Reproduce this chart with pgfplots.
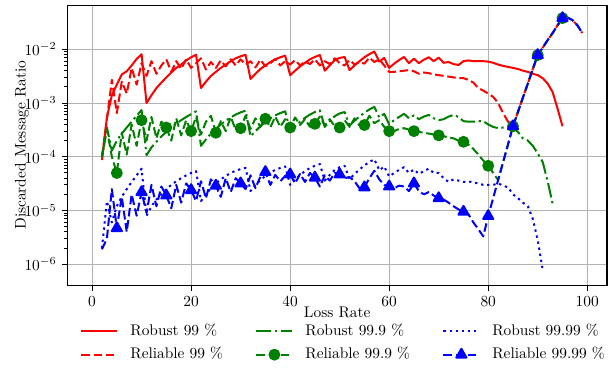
\documentclass[border=0pt]{standalone}
\usepackage{pgfplots}
\pgfplotsset{compat=1.18}
\definecolor{mplred}{rgb}{1,0,0}
\definecolor{mplgreen}{rgb}{0,0.5,0}
\definecolor{mplblue}{rgb}{0,0,1}
\begin{document}
\begin{tikzpicture}
\path[use as bounding box] (-43.7pt,-59.9pt) rectangle (356.3pt,185.5pt);
\begin{axis}[
  scale only axis, width=350.5pt, height=182.1pt,
  at={(0,0)}, anchor=south west,
  ymode=log, xmin=-5, xmax=104, ymin=4e-7, ymax=6.6e-2,
  xtick={0,20,40,60,80,100},
  ytick={1e-6,1e-5,1e-4,1e-3,1e-2},
  grid=major, major grid style={color=black!30, line width=0.6pt},
  tick align=outside, tick pos=left,
  major tick length=3.5pt, minor tick length=2pt,
  tick style={black, line width=0.6pt},
  axis line style={black, line width=0.8pt},
  xlabel={Loss Rate},
  xlabel style={at={(axis description cs:0.5,-0.097)}, anchor=center},
  legend columns=3,
  legend cell align=left,
  legend style={draw=none, fill=none, at={(axis description cs:0.0237,-0.1367)}, anchor=north west,
    inner sep=0pt, nodes={inner sep=0pt, text height=7pt, text depth=2pt},
    /tikz/every odd column/.append style={column sep=7.8pt},
    /tikz/every even column/.append style={column sep=21pt},
    /tikz/row sep=6.2pt},
  legend image code/.code={\draw[mark repeat=2,mark phase=2,#1] plot coordinates {(0pt,0pt) (11.7pt,0pt) (23.4pt,0pt)};},
  every axis plot/.append style={line width=1.3pt, line join=round},
]
% Robust 99
\addplot[mplred, solid, mark=none] table {
x y
2 8.7e-5
3 5.4e-4
4 1.4e-3
5 2.2e-3
6 3.4e-3
7 3.9e-3
8 5.0e-3
9 6.6e-3
10 8.1e-3
11 1.0e-3
12 1.4e-3
13 1.9e-3
14 2.4e-3
15 3.0e-3
16 3.7e-3
17 4.5e-3
18 5.2e-3
19 6.2e-3
20 7.1e-3
21 7.9e-3
22 1.9e-3
23 2.5e-3
24 3.2e-3
25 3.8e-3
26 4.5e-3
27 5.2e-3
28 6.0e-3
29 6.8e-3
30 7.4e-3
31 7.9e-3
32 2.8e-3
33 3.5e-3
34 4.3e-3
35 5.0e-3
36 5.8e-3
37 6.5e-3
38 7.1e-3
39 7.6e-3
40 3.3e-3
41 4.0e-3
42 4.8e-3
43 5.6e-3
44 6.5e-3
45 7.2e-3
46 7.8e-3
47 4.0e-3
48 5.0e-3
49 6.3e-3
50 6.9e-3
51 7.2e-3
52 4.1e-3
53 5.0e-3
54 6.0e-3
55 7.1e-3
56 8.1e-3
57 9.1e-3
58 5.9e-3
59 6.9e-3
60 4.5e-3
61 5.4e-3
62 6.3e-3
63 7.2e-3
64 5.5e-3
65 6.7e-3
66 5.5e-3
67 6.4e-3
68 7.1e-3
69 6.0e-3
70 7.0e-3
71 5.6e-3
72 5.8e-3
73 5.3e-3
74 5.1e-3
75 6.0e-3
76 6.2e-3
77 6.0e-3
78 6.0e-3
79 6.0e-3
80 5.9e-3
81 5.6e-3
82 5.2e-3
83 4.9e-3
84 4.7e-3
85 4.5e-3
86 4.3e-3
87 4.0e-3
88 3.8e-3
89 3.5e-3
90 3.3e-3
91 2.9e-3
92 2.3e-3
93 1.6e-3
94 7.9e-4
95 3.7e-4
};
\addlegendentry{Robust 99 \%}
% Robust 99.9
\addplot[mplgreen, dash pattern=on 9.6pt off 2.4pt on 1.5pt off 2.4pt, mark=none] table {
x y
2 1.0e-4
3 3.5e-4
4 1.3e-4
5 2.0e-4
6 2.7e-4
7 3.5e-4
8 4.5e-4
9 5.8e-4
10 7.4e-4
11 1.07e-4
12 1.5e-4
13 1.9e-4
14 2.4e-4
15 2.9e-4
16 3.5e-4
17 4.1e-4
18 4.8e-4
19 5.5e-4
20 6.2e-4
21 7.0e-4
22 1.6e-4
23 2.1e-4
24 2.7e-4
25 3.3e-4
26 4.0e-4
27 4.7e-4
28 5.4e-4
29 6.1e-4
30 6.7e-4
31 7.2e-4
32 2.4e-4
33 3.0e-4
34 3.7e-4
35 4.5e-4
36 5.2e-4
37 5.9e-4
38 6.5e-4
39 7.0e-4
40 3.0e-4
41 3.7e-4
42 4.5e-4
43 5.3e-4
44 6.1e-4
45 6.8e-4
46 7.3e-4
47 3.6e-4
48 4.6e-4
49 5.7e-4
50 6.4e-4
51 6.8e-4
52 3.8e-4
53 4.7e-4
54 5.6e-4
55 6.6e-4
56 7.6e-4
57 8.5e-4
58 5.4e-4
59 6.3e-4
60 4.0e-4
61 4.8e-4
62 5.5e-4
63 6.3e-4
64 5.2e-4
65 5.9e-4
66 5.0e-4
67 5.6e-4
68 6.0e-4
69 5.2e-4
70 4.8e-4
71 5.0e-4
72 5.6e-4
73 6.0e-4
74 5.5e-4
75 4.6e-4
76 4.5e-4
77 4.5e-4
78 4.6e-4
79 4.6e-4
80 4.0e-4
81 3.6e-4
82 3.4e-4
83 3.5e-4
84 3.6e-4
85 3.4e-4
86 2.9e-4
87 2.2e-4
88 2.0e-4
89 1.6e-4
90 1.15e-4
91 8.0e-5
92 3.5e-5
93 1.35e-5
};
\addlegendentry{Robust 99.9 \%}
% Robust 99.99
\addplot[mplblue, dash pattern=on 1.5pt off 2.5pt, mark=none] table {
x y
2 2.0e-6
3 1.5e-5
4 6.0e-6
5 1.2e-5
6 1.8e-5
7 2.5e-5
8 3.4e-5
9 4.5e-5
10 6.0e-5
11 8.0e-6
12 1.2e-5
13 1.6e-5
14 2.0e-5
15 2.5e-5
16 3.0e-5
17 3.5e-5
18 4.0e-5
19 4.5e-5
20 5.0e-5
21 5.4e-5
22 1.5e-5
23 2.0e-5
24 2.6e-5
25 3.2e-5
26 3.8e-5
27 4.4e-5
28 5.0e-5
29 5.5e-5
30 5.9e-5
31 6.2e-5
32 2.3e-5
33 3.0e-5
34 3.7e-5
35 4.4e-5
36 5.1e-5
37 5.7e-5
38 6.2e-5
39 6.6e-5
40 3.0e-5
41 3.8e-5
42 4.6e-5
43 5.4e-5
44 6.2e-5
45 6.8e-5
46 7.3e-5
47 3.6e-5
48 4.6e-5
49 5.7e-5
50 6.4e-5
51 6.8e-5
52 3.8e-5
53 4.8e-5
54 5.8e-5
55 6.9e-5
56 8.0e-5
57 9.0e-5
58 5.6e-5
59 6.6e-5
60 4.3e-5
61 5.0e-5
62 5.7e-5
63 6.4e-5
64 5.0e-5
65 5.8e-5
66 4.8e-5
67 5.4e-5
68 6.0e-5
69 5.0e-5
70 5.0e-5
71 4.0e-5
72 3.4e-5
73 3.8e-5
74 3.6e-5
75 3.4e-5
76 3.5e-5
77 3.3e-5
78 3.2e-5
79 3.0e-5
80 3.0e-5
81 3.0e-5
82 3.2e-5
83 2.9e-5
84 2.7e-5
85 2.0e-5
86 1.7e-5
87 1.4e-5
88 1.2e-5
89 7.0e-6
90 2.8e-6
91 7.8e-7
};
\addlegendentry{Robust 99.99 \%}
% Reliable 99
\addplot[mplred, dash pattern=on 5.55pt off 2.4pt, mark=none] table {
x y
2 1.0e-4
3 5.0e-4
4 2.7e-3
5 6.5e-4
6 2.5e-3
7 1.5e-3
8 4.5e-3
9 2.2e-3
10 5.5e-3
11 3.2e-3
12 6.0e-3
13 3.5e-3
14 5.0e-3
15 6.5e-3
16 3.8e-3
17 6.0e-3
18 4.3e-3
19 6.5e-3
20 4.5e-3
21 5.5e-3
22 6.8e-3
23 4.2e-3
24 5.8e-3
25 4.5e-3
26 6.2e-3
27 4.8e-3
28 6.5e-3
29 5.0e-3
30 6.5e-3
31 5.2e-3
32 6.0e-3
33 4.6e-3
34 6.4e-3
35 4.8e-3
36 5.5e-3
37 6.6e-3
38 5.0e-3
39 6.0e-3
40 5.2e-3
41 6.3e-3
42 5.0e-3
43 5.9e-3
44 5.3e-3
45 6.5e-3
46 5.0e-3
47 6.0e-3
48 5.3e-3
49 6.8e-3
50 5.5e-3
51 5.0e-3
52 6.3e-3
53 5.2e-3
54 5.8e-3
55 5.4e-3
56 7.0e-3
57 5.8e-3
58 6.5e-3
59 5.0e-3
60 3.8e-3
61 3.8e-3
62 3.9e-3
63 4.0e-3
64 4.1e-3
65 3.9e-3
66 3.5e-3
67 3.7e-3
68 3.6e-3
69 3.4e-3
70 3.3e-3
71 3.2e-3
72 3.1e-3
73 3.0e-3
74 2.9e-3
75 2.9e-3
76 2.7e-3
77 2.4e-3
78 1.9e-3
79 1.7e-3
80 1.5e-3
81 1.3e-3
82 1.0e-3
83 6.5e-4
84 4.5e-4
85 3.7e-4
86 6.8e-4
87 1.26e-3
88 2.3e-3
89 4.3e-3
90 7.8e-3
91 1.07e-2
92 1.48e-2
93 2.0e-2
94 2.8e-2
95 3.8e-2
96 3.9e-2
97 3.5e-2
98 2.8e-2
99 2.0e-2
};
\addlegendentry{Reliable 99 \%}
% Reliable 99.9
\addplot[mplgreen, dash pattern=on 5.55pt off 2.4pt, mark=*, mark size=3.2pt, mark repeat=5, mark phase=4, mark options={solid, fill=mplgreen}] table {
x y
2 1.0e-4
3 3.2e-4
4 1.0e-4
5 5.0e-5
6 2.8e-4
7 1.1e-4
8 4.0e-4
9 1.6e-4
10 4.8e-4
11 2.0e-4
12 5.5e-4
13 2.2e-4
14 4.5e-4
15 3.5e-4
16 2.0e-4
17 5.2e-4
18 2.5e-4
19 4.8e-4
20 3.0e-4
21 5.5e-4
22 2.6e-4
23 4.5e-4
24 5.8e-4
25 2.8e-4
26 4.6e-4
27 3.0e-4
28 5.5e-4
29 3.2e-4
30 3.4e-4
31 5.8e-4
32 3.3e-4
33 5.2e-4
34 3.6e-4
35 5.1e-4
36 3.5e-4
37 5.6e-4
38 3.6e-4
39 5.0e-4
40 3.5e-4
41 5.4e-4
42 3.9e-4
43 5.0e-4
44 3.6e-4
45 4.1e-4
46 5.6e-4
47 3.8e-4
48 5.0e-4
49 3.7e-4
50 3.5e-4
51 4.8e-4
52 3.6e-4
53 5.2e-4
54 3.8e-4
55 3.9e-4
56 5.8e-4
57 4.2e-4
58 4.8e-4
59 3.6e-4
60 3.0e-4
61 3.0e-4
62 3.3e-4
63 3.4e-4
64 3.2e-4
65 3.0e-4
66 2.9e-4
67 2.8e-4
68 2.7e-4
69 2.6e-4
70 2.5e-4
71 2.4e-4
72 2.3e-4
73 2.2e-4
74 2.0e-4
75 1.9e-4
76 1.7e-4
77 1.4e-4
78 1.1e-4
79 8.5e-5
80 6.8e-5
81 5.0e-5
82 3.7e-5
83 7.9e-5
84 1.7e-4
85 3.7e-4
86 6.8e-4
87 1.26e-3
88 2.3e-3
89 4.3e-3
90 7.8e-3
91 1.07e-2
92 1.48e-2
93 2.0e-2
94 2.8e-2
95 3.8e-2
96 3.9e-2
97 3.5e-2
98 2.8e-2
99 2.0e-2
};
\addlegendentry{Reliable 99.9 \%}
% Reliable 99.99
\addplot[mplblue, dash pattern=on 5.55pt off 2.4pt, mark=triangle*, mark size=3.8pt, mark repeat=5, mark phase=4, mark options={solid, fill=mplblue}] table {
x y
2 1.9e-6
3 3.0e-6
4 2.5e-5
5 4.7e-6
6 1.8e-5
7 4.0e-6
8 2.0e-5
9 8.0e-6
10 2.2e-5
11 9.0e-6
12 3.0e-5
13 1.2e-5
14 2.8e-5
15 1.9e-5
16 1.1e-5
17 3.0e-5
18 1.4e-5
19 3.2e-5
20 2.4e-5
21 1.5e-5
22 3.5e-5
23 1.7e-5
24 3.8e-5
25 2.9e-5
26 1.8e-5
27 4.0e-5
28 2.2e-5
29 4.0e-5
30 3.2e-5
31 2.5e-5
32 4.5e-5
33 2.6e-5
34 4.3e-5
35 5.2e-5
36 3.0e-5
37 4.6e-5
38 3.5e-5
39 4.4e-5
40 4.7e-5
41 3.2e-5
42 4.8e-5
43 3.4e-5
44 5.0e-5
45 4.1e-5
46 2.8e-5
47 4.5e-5
48 3.6e-5
49 5.0e-5
50 4.7e-5
51 4.0e-5
52 4.2e-5
53 3.5e-5
54 2.6e-5
55 2.7e-5
56 4.0e-5
57 5.5e-5
58 3.8e-5
59 3.0e-5
60 2.8e-5
61 2.6e-5
62 2.9e-5
63 2.8e-5
64 2.3e-5
65 3.2e-5
66 2.3e-5
67 2.0e-5
68 2.2e-5
69 1.9e-5
70 1.7e-5
71 1.6e-5
72 1.4e-5
73 1.2e-5
74 1.05e-5
75 9.5e-6
76 8.5e-6
77 6.0e-6
78 4.5e-6
79 3.3e-6
80 7.9e-6
81 1.7e-5
82 3.7e-5
83 7.9e-5
84 1.7e-4
85 3.7e-4
86 6.8e-4
87 1.26e-3
88 2.3e-3
89 4.3e-3
90 7.8e-3
91 1.07e-2
92 1.48e-2
93 2.0e-2
94 2.8e-2
95 3.8e-2
96 3.9e-2
97 3.5e-2
98 2.8e-2
99 2.0e-2
};
\addlegendentry{Reliable 99.99 \%}
\end{axis}
\node[rotate=90, anchor=base west, inner sep=0pt] at (-27.1pt,36.1pt) {Discarded};
\node[rotate=90, anchor=base west, inner sep=0pt] at (-27.1pt,82.71pt) {Message};
\node[rotate=90, anchor=base west, inner sep=0pt] at (-27.1pt,121.97pt) {Ratio};
\end{tikzpicture}
\end{document}
